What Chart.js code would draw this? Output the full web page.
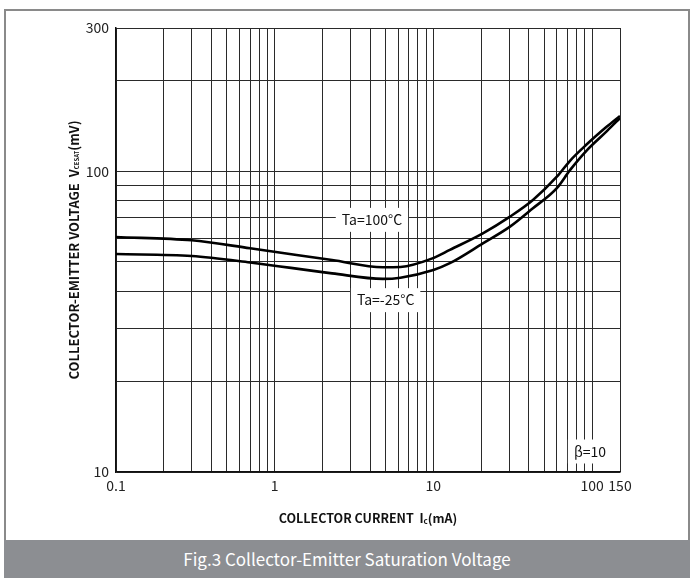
<!DOCTYPE html>
<html>
<head>
<meta charset="utf-8">
<script src="https://cdn.jsdelivr.net/npm/chart.js@4"></script>
<style>
  html, body { margin: 0; padding: 0; background: #fff; }
  body { width: 693px; height: 578px; position: relative; overflow: hidden; }
  #frame {
    position: absolute; left: 4px; top: 9px; width: 682px; height: 531px;
    border: 2px solid #8a8a8a; border-bottom: none;
  }
  #chart { position: absolute; left: 0; top: 0; }
  #caption {
    position: absolute; left: 4px; top: 540px; width: 686px; height: 38px;
    background: #8c8e92; color: #fff; text-align: center;
    font: 17px "Noto Sans CJK SC", "Noto Sans", sans-serif; line-height: 38px;
  }
</style>
</head>
<body>
<div id="frame"></div>
<canvas id="chart" width="693" height="540"></canvas>
<div id="caption">Fig.3 Collector-Emitter Saturation Voltage</div>
<script>
// Chart data (beta = 10)
const currentMA = [0.1, 0.3, 0.7, 2.3, 4.8, 6.2, 10, 12.7, 20.5, 30.4, 42.4, 60, 72.6, 93, 124, 150];
const vce100C = [60.5, 59, 55.5, 50.7, 48, 48.1, 51.5, 54.8, 62.2, 70.7, 80.3, 96, 108.5, 123.3, 141, 153];
const vceMinus25C = [53.1, 52.3, 49.8, 45.8, 43.9, 44.3, 47, 49.5, 57.6, 65.5, 75.4, 88, 101, 117.8, 136.2, 150.5];

// Axis ticks
const xTicks = [0.1, 0.2, 0.3, 0.4, 0.5, 0.6, 0.7, 0.8, 0.9, 1, 2, 3, 4, 5, 6, 7, 8, 9,
  10, 20, 30, 40, 50, 60, 70, 80, 90, 100, 150];
const xTickLabels = ['0.1', '1', '10', '100', '150'];
const yTicks = [10, 20, 30, 40, 50, 60, 70, 80, 90, 100, 200, 300];
const yTickLabels = ['10', '100', '300'];

// In-plot notes, anchored in data units
const noteTexts = ['Ta=100°C', 'Ta=-25°C', 'β=10'];
const noteX = [4.1, 5.0, 97];
const noteY = [69, 37.3, 11.7];

const FONT = '"Noto Sans CJK SC", "Noto Sans", sans-serif';
const INK = '#111';

const toPoints = (xs, ys) => xs.map((x, i) => ({ x: x, y: ys[i] }));

// White-boxed labels drawn over the grid, under the curves
const notesPlugin = {
  id: 'notes',
  beforeDatasetsDraw(chart) {
    const ctx = chart.ctx;
    const xs = chart.scales.x;
    const ys = chart.scales.y;
    ctx.save();
    ctx.font = '14px ' + FONT;
    ctx.textAlign = 'center';
    ctx.textBaseline = 'middle';
    noteTexts.forEach((text, i) => {
      const px = xs.getPixelForValue(noteX[i]);
      const py = ys.getPixelForValue(noteY[i]);
      const w = ctx.measureText(text).width + 12;
      const h = 24;
      ctx.fillStyle = '#fff';
      ctx.fillRect(px - w / 2, py - h / 2, w, h);
      ctx.fillStyle = INK;
      ctx.fillText(text, px, py);
    });
    ctx.restore();
  }
};

// Draw a run of [text, isSub] parts centred on the origin
function drawParts(ctx, parts, size, subSize) {
  let total = 0;
  parts.forEach(p => {
    ctx.font = 'bold ' + (p[1] ? subSize : size) + 'px ' + FONT;
    total += ctx.measureText(p[0]).width;
  });
  let x = -total / 2;
  parts.forEach(p => {
    ctx.font = 'bold ' + (p[1] ? subSize : size) + 'px ' + FONT;
    ctx.fillText(p[0], x, p[1] ? 3 : 0);
    x += ctx.measureText(p[0]).width;
  });
}

// Axis titles with subscripts
const titlesPlugin = {
  id: 'titles',
  afterDraw(chart) {
    const ctx = chart.ctx;
    const area = chart.chartArea;
    ctx.save();
    ctx.fillStyle = INK;
    ctx.textAlign = 'left';
    ctx.textBaseline = 'middle';
    ctx.translate((area.left + area.right) / 2, 518);
    drawParts(ctx, [['COLLECTOR CURRENT  I', false], ['c', true], ['(mA)', false]], 12.5, 8);
    ctx.restore();

    ctx.save();
    ctx.fillStyle = INK;
    ctx.textAlign = 'left';
    ctx.textBaseline = 'middle';
    ctx.translate(74, (area.top + area.bottom) / 2);
    ctx.rotate(-Math.PI / 2);
    drawParts(ctx, [['COLLECTOR-EMITTER VOLTAGE  V', false], ['CESAT', true], ['(mV)', false]], 13, 6);
    ctx.restore();
  }
};

const gridStyle = { color: '#2a2a2a', lineWidth: 1, drawTicks: false };

new Chart(document.getElementById('chart'), {
  type: 'line',
  data: {
    datasets: [
      {
        label: 'Ta=100°C',
        data: toPoints(currentMA, vce100C),
        borderColor: '#000',
        borderWidth: 2.6,
        pointRadius: 0,
        cubicInterpolationMode: 'monotone'
      },
      {
        label: 'Ta=-25°C',
        data: toPoints(currentMA, vceMinus25C),
        borderColor: '#000',
        borderWidth: 2.6,
        pointRadius: 0,
        cubicInterpolationMode: 'monotone'
      }
    ]
  },
  options: {
    responsive: false,
    animation: false,
    layout: { padding: { left: 0, top: 28, right: 73, bottom: 28 } },
    plugins: {
      legend: { display: false },
      tooltip: { enabled: false }
    },
    scales: {
      x: {
        type: 'logarithmic',
        min: 0.1,
        max: 150,
        grid: gridStyle,
        border: { display: true, color: '#111', width: 1.5 },
        afterBuildTicks: scale => { scale.ticks = xTicks.map(v => ({ value: v })); },
        afterFit: scale => { scale.height = 40; },
        ticks: {
          autoSkip: false,
          maxRotation: 0,
          padding: 5,
          color: '#222',
          font: { family: FONT, size: 14 },
          callback: value => xTickLabels.includes(String(value)) ? String(value) : ''
        }
      },
      y: {
        type: 'logarithmic',
        min: 10,
        max: 300,
        grid: gridStyle,
        border: { display: true, color: '#111', width: 1.5 },
        afterBuildTicks: scale => { scale.ticks = yTicks.map(v => ({ value: v })); },
        afterFit: scale => { scale.width = 116; },
        ticks: {
          autoSkip: false,
          padding: 7,
          color: '#222',
          font: { family: FONT, size: 14 },
          callback: value => yTickLabels.includes(String(value)) ? String(value) : ''
        }
      }
    }
  },
  plugins: [notesPlugin, titlesPlugin]
});
</script>
</body>
</html>
